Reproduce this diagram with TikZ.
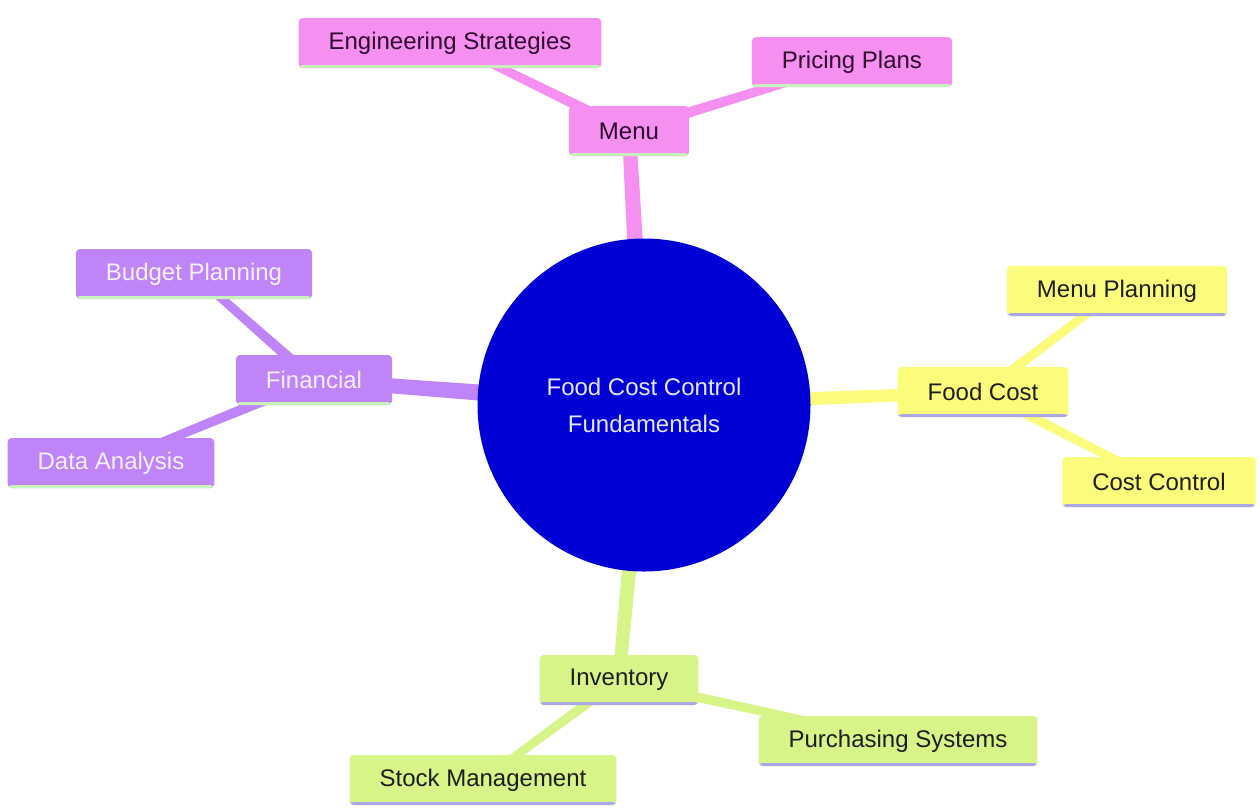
\documentclass[tikz,border=0pt]{standalone}
\usepackage{fontspec}
\setmainfont{Liberation Sans}
\usetikzlibrary{calc,backgrounds}
\definecolor{pinkc}{HTML}{F590F0}
\definecolor{purc}{HTML}{BF84F8}
\definecolor{yelc}{HTML}{FCFC7C}
\definecolor{grnc}{HTML}{D6F488}
\definecolor{rootc}{HTML}{0000D4}
\definecolor{lav}{HTML}{ABA6E6}
\definecolor{pgreen}{HTML}{C8F2BC}
\definecolor{pinktext}{HTML}{2E0A2E}
\definecolor{purtext}{HTML}{F6F0FC}
\definecolor{darktext}{HTML}{1E1E1E}
\definecolor{roottext}{HTML}{E6E6FF}
\newcommand\mmedge[5]{%
  \fill[#5] ($(#1)!#3!90:(#2)$) -- ($(#1)!#3!-90:(#2)$) -- ($(#2)!#4!90:(#1)$) -- ($(#2)!#4!-90:(#1)$) -- cycle;}
\tikzset{
  mm/.style={rectangle, rounded corners=4pt, minimum height=50pt, inner xsep=30pt, inner ysep=0pt,
    font=\fontsize{24}{28}\selectfont},
  pinkn/.style={mm, fill=pinkc, text=pinktext,
    path picture={\fill[pgreen] ([yshift=3pt]path picture bounding box.south west) rectangle (path picture bounding box.south east);}},
  purn/.style={mm, fill=purc, text=purtext,
    path picture={\fill[pgreen] ([yshift=3pt]path picture bounding box.south west) rectangle (path picture bounding box.south east);}},
  yeln/.style={mm, fill=yelc, text=darktext,
    path picture={\fill[lav] ([yshift=3pt]path picture bounding box.south west) rectangle (path picture bounding box.south east);}},
  grnn/.style={mm, fill=grnc, text=darktext,
    path picture={\fill[lav] ([yshift=3pt]path picture bounding box.south west) rectangle (path picture bounding box.south east);}},
  rootn/.style={circle, fill=rootc, text=roottext, minimum size=333pt, inner sep=0pt, align=center,
    font=\fontsize{24}{37}\selectfont}
}
\begin{document}
\begin{tikzpicture}[x=1pt, y=-1pt]
\useasboundingbox (0,0) rectangle (1260,807);
\node[rootn] (root) at (644,405) {Food Cost Control\\Fundamentals};
\node[pinkn] (menu) at (629,131) {Menu};
\node[pinkn] (eng) at (450,43) {Engineering Strategies};
\node[pinkn] (price) at (852,62) {Pricing Plans};
\node[yeln] (food) at (983,392) {Food Cost};
\node[yeln] (mplan) at (1117,291) {Menu Planning};
\node[yeln] (cctrl) at (1159,482) {Cost Control};
\node[purn] (fin) at (314,380) {Financial};
\node[purn] (budget) at (194,274) {Budget Planning};
\node[purn] (data) at (111,463) {Data Analysis};
\node[grnn] (inv) at (619,680) {Inventory};
\node[grnn] (purch) at (898,741) {Purchasing Systems};
\node[grnn] (stock) at (483,780) {Stock Management};
\begin{scope}[on background layer]
  \fill[white] (0,0) rectangle (1260,807);
  \mmedge{root}{menu}{9pt}{7pt}{pinkc}
  \mmedge{root}{food}{7pt}{6pt}{yelc}
  \mmedge{root}{fin}{9pt}{7pt}{purc}
  \mmedge{root}{inv}{8pt}{6.5pt}{grnc}
  \mmedge{menu}{eng}{5.5pt}{4pt}{pinkc}
  \mmedge{menu}{price}{5.5pt}{4pt}{pinkc}
  \mmedge{food}{mplan}{5pt}{4pt}{yelc}
  \mmedge{food}{cctrl}{5pt}{4pt}{yelc}
  \mmedge{fin}{budget}{5.5pt}{4pt}{purc}
  \mmedge{fin}{data}{5.5pt}{4pt}{purc}
  \mmedge{inv}{purch}{5pt}{4pt}{grnc}
  \mmedge{inv}{stock}{5pt}{4pt}{grnc}
\end{scope}
\end{tikzpicture}
\end{document}
